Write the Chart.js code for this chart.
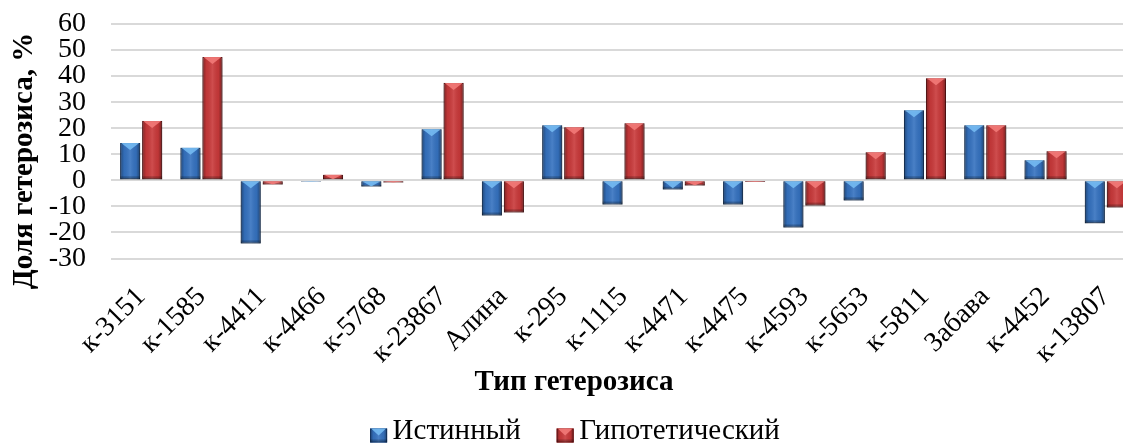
<!DOCTYPE html>
<html lang="ru">
<head>
<meta charset="utf-8">
<title>Доля гетерозиса</title>
<script src="https://cdn.jsdelivr.net/npm/chart.js@4/dist/chart.umd.min.js"></script>
<style>
  html, body { margin: 0; padding: 0; background: #ffffff; overflow: hidden; }
  /* the plot runs on past the right edge of the page */
  #wrap { width: 1136px; height: 443px; position: relative; }
</style>
</head>
<body>
<div id="wrap"><canvas id="chart"></canvas></div>
<script>
// Сорта и линии
const categories = ['к-3151', 'к-1585', 'к-4411', 'к-4466', 'к-5768', 'к-23867', 'Алина', 'к-295',
  'к-1115', 'к-4471', 'к-4475', 'к-4593', 'к-5653', 'к-5811', 'Забава', 'к-4452', 'к-13807'];

// Доля гетерозиса, %
const trueHeterosis = [14.3, 12.5, -24.2, -0.5, -2.4, 19.6, -13.5, 21.1,
  -9.3, -3.5, -9.3, -18.1, -7.7, 26.9, 21.1, 7.7, -16.5];
const hypotheticalHeterosis = [22.8, 47.3, -1.6, 2.1, -0.8, 37.4, -12.3, 20.4,
  21.9, -2.0, -0.6, -9.7, 10.8, 39.2, 21.1, 11.2, -10.4];

const seriesNames = ['Истинный', 'Гипотетический'];
const yTicks = [-30, -20, -10, 0, 10, 20, 30, 40, 50, 60];
const xTitle = 'Тип гетерозиса';
const yTitle = 'Доля гетерозиса, %';

const FONT = '"Liberation Serif", "Times New Roman", serif';
const PAD_LEFT = 14;
const PAD_BOTTOM = -13;
const PLOT_LEFT = 111;
const PLOT_BOTTOM = 258.5;

// Palette for the bevelled bars: body, dark edge, light top facet
const looks = [
  { body: '#3572c0', edge: '#1c4884', facet: '#74baf2' },
  { body: '#c9393a', edge: '#861c1d', facet: '#f27a78' }
];

// Shading and top facet for a bar-shaped rectangle
function bevel(ctx, look, left, top, width, h) {
  const right = left + width;
  const bottom = top + h;
  ctx.save();
  const g = ctx.createLinearGradient(left, 0, right, 0);
  g.addColorStop(0, 'rgba(0,0,0,0.38)');
  g.addColorStop(0.2, 'rgba(0,0,0,0.05)');
  g.addColorStop(0.5, 'rgba(255,255,255,0.10)');
  g.addColorStop(0.8, 'rgba(0,0,0,0.05)');
  g.addColorStop(1, 'rgba(0,0,0,0.42)');
  ctx.fillStyle = g;
  ctx.fillRect(left, top, width, h);
  const strip = Math.min(3, h / 3);
  ctx.fillStyle = 'rgba(0,0,0,0.22)';
  ctx.fillRect(left, bottom - strip, width, strip);
  const depth = Math.min(7, h, width / 2);
  ctx.beginPath();
  ctx.moveTo(left + 1, top);
  ctx.lineTo(right - 1, top);
  ctx.lineTo(left + width / 2, top + depth);
  ctx.closePath();
  ctx.fillStyle = look.facet;
  ctx.globalAlpha = 0.9;
  ctx.fill();
  ctx.restore();
}

// Soft drop shadow under each series
const shadowPlugin = {
  id: 'barShadow',
  beforeDatasetDraw(chart) {
    const ctx = chart.ctx;
    ctx.save();
    ctx.shadowColor = 'rgba(0,0,0,0.28)';
    ctx.shadowBlur = 6;
    ctx.shadowOffsetX = 0;
    ctx.shadowOffsetY = 4;
  },
  afterDatasetDraw(chart) {
    chart.ctx.restore();
  }
};

// Shading and top facet drawn over each bar the library placed
const bevelPlugin = {
  id: 'barBevel',
  afterDatasetDraw(chart, args) {
    const look = looks[args.index];
    args.meta.data.forEach((bar) => {
      const p = bar.getProps(['x', 'y', 'base', 'width'], true);
      const top = Math.min(p.y, p.base);
      const h = Math.abs(p.base - p.y);
      if (h <= 0) return;
      bevel(chart.ctx, look, p.x - p.width / 2, top, p.width, h);
    });
  }
};

// Legend swatches sit close to their text
const legendSwatches = {
  id: 'legendSwatches',
  afterDraw(chart) {
    const lg = chart.legend;
    if (!lg || !lg.legendHitBoxes) return;
    const ctx = chart.ctx;
    lg.legendHitBoxes.forEach((hb, i) => {
      const look = looks[i];
      const w = 17, h = 14;
      const left = hb.left;
      const top = hb.top + hb.height / 2 - 3;
      ctx.save();
      ctx.fillStyle = look.body;
      ctx.fillRect(left, top, w, h);
      ctx.strokeStyle = look.edge;
      ctx.lineWidth = 1;
      ctx.strokeRect(left + 0.5, top + 0.5, w - 1, h - 1);
      ctx.restore();
      bevel(ctx, look, left, top, w, h);
    });
  }
};

// Axis titles, placed beside the plot
const axisTitles = {
  id: 'axisTitles',
  afterDraw(chart) {
    const ctx = chart.ctx;
    const area = chart.chartArea;
    ctx.save();
    ctx.fillStyle = '#000000';
    ctx.font = 'bold 29px ' + FONT;
    ctx.textAlign = 'center';
    ctx.textBaseline = 'middle';
    ctx.fillText(xTitle, chart.width / 2 + 6, area.bottom + 124);
    ctx.translate(25, area.top + 137);
    ctx.rotate(-Math.PI / 2);
    ctx.fillText(yTitle, 0, 0);
    ctx.restore();
  }
};

const datasets = [trueHeterosis, hypotheticalHeterosis].map((values, i) => ({
  label: seriesNames[i],
  data: values,
  backgroundColor: looks[i].body,
  borderColor: looks[i].edge,
  borderWidth: 1,
  borderSkipped: false,
  categoryPercentage: 0.73,
  barPercentage: 0.91
}));

new Chart(document.getElementById('chart'), {
  type: 'bar',
  data: { labels: categories, datasets },
  plugins: [shadowPlugin, bevelPlugin, legendSwatches, axisTitles],
  options: {
    responsive: true,
    maintainAspectRatio: false,
    animation: false,
    layout: { padding: { top: 24, right: 0, left: PAD_LEFT, bottom: PAD_BOTTOM } },
    plugins: {
      tooltip: { enabled: false },
      legend: {
        position: 'bottom',
        labels: {
          font: { family: FONT, size: 29 },
          color: '#000000',
          boxWidth: 8,
          boxHeight: 14,
          padding: 36,
          generateLabels(chart) {
            return chart.data.datasets.map((ds, i) => ({
              text: ds.label,
              fillStyle: 'rgba(0,0,0,0)',
              strokeStyle: 'rgba(0,0,0,0)',
              lineWidth: 0,
              datasetIndex: i,
              fontColor: '#000000'
            }));
          }
        }
      }
    },
    scales: {
      x: {
        afterFit(scale) {
          const lg = scale.chart.legend;
          scale.height = scale.chart.height - PAD_BOTTOM - (lg ? lg.height : 0) - PLOT_BOTTOM;
          scale.paddingLeft = 0;
          scale.paddingRight = 0;
        },
        grid: { display: false, drawTicks: false },
        border: { display: false },
        ticks: {
          font: { family: FONT, size: 28 },
          color: '#000000',
          minRotation: 45,
          maxRotation: 45,
          padding: 22,
          autoSkip: false
        }
      },
      y: {
        min: -30,
        max: 60,
        afterBuildTicks(scale) {
          scale.ticks = yTicks.map((v) => ({ value: v }));
        },
        afterFit(scale) {
          scale.width = PLOT_LEFT - PAD_LEFT;
          scale.paddingTop = 0;
          scale.paddingBottom = 0;
        },
        grid: {
          color: '#d9d9d9',
          lineWidth: 2,
          drawTicks: false
        },
        border: { display: false },
        ticks: {
          font: { family: FONT, size: 28 },
          color: '#000000',
          padding: 25,
          autoSkip: false
        }
      }
    }
  }
});
</script>
</body>
</html>
